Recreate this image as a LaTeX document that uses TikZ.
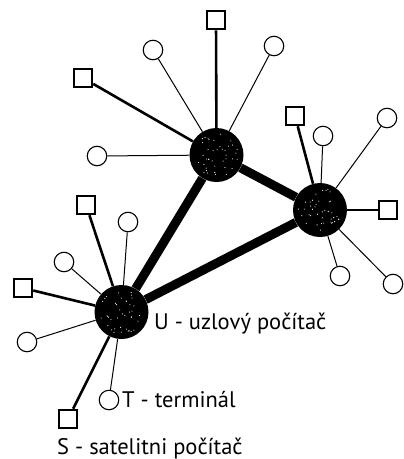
\documentclass[tikz,border=0pt]{standalone}
\usepackage{fontspec}
\setmainfont{PT Sans}
\usetikzlibrary{calc}
\begin{document}
\begin{tikzpicture}[x=1pt,y=-1pt,
  uzel/.style={circle,fill=black,minimum size=54pt,inner sep=0pt},
  term/.style={circle,draw,line width=1.1pt,fill=white,minimum size=19.5pt,inner sep=0pt},
  sat/.style={rectangle,draw,line width=2.5pt,fill=white,minimum size=18pt,inner sep=0pt},
  hlavni/.style={line width=9pt},
  satl/.style={line width=2.6pt},
  terml/.style={line width=1pt},
  lbl/.style={anchor=base west,inner sep=0pt,font=\fontsize{22.5}{26}\selectfont}]
\useasboundingbox (0,0) rectangle (404,459);
% central nodes
\node[uzel] (A) at (216.5,155) {};
\node[uzel] (B) at (320,210) {};
\node[uzel] (C) at (121.5,312) {};
% satellites and terminals of A
\node[sat]  (sA1) at (216,20) {};
\node[sat]  (sA2) at (83,78) {};
\node[term] (tA1) at (153,50) {};
\node[term] (tA2) at (274,46) {};
\node[term] (tA3) at (97,156) {};
% of B
\node[sat]  (sB1) at (295,116) {};
\node[term] (tB1) at (323,136) {};
\node[term] (tB2) at (387,118) {};
\node[sat]  (sB2) at (388,210) {};
\node[term] (tB3) at (340,276) {};
\node[term] (tB4) at (393,284) {};
% of C
\node[sat]  (sC1) at (86,205) {};
\node[term] (tC1) at (128,222) {};
\node[term] (tC2) at (64,262) {};
\node[sat]  (sC2) at (23,288) {};
\node[term] (tC3) at (27,342) {};
\node[term] (tC4) at (109,400) {};
\node[sat]  (sC3) at (68,419) {};
% main links
\draw[hlavni] (A) -- (B);
\draw[hlavni] (A) -- (C);
\draw[hlavni] (B) -- (C);
% satellite links
\draw[satl] (A) -- (sA1);
\draw[satl] (A) -- (sA2);
\draw[satl] (B) -- (sB1);
\draw[satl] (B) -- (sB2);
\draw[satl] (C) -- (sC1);
\draw[satl] (C) -- (sC2);
\draw[satl] (C) -- (sC3);
% terminal links
\draw[terml] (A) -- (tA1);
\draw[terml] (A) -- (tA2);
\draw[terml] (A) -- (tA3);
\draw[terml] (B) -- (tB1);
\draw[terml] (B) -- (tB2);
\draw[terml] (B) -- (tB3);
\draw[terml] (B) -- (tB4);
\draw[terml] (C) -- (tC1);
\draw[terml] (C) -- (tC2);
\draw[terml] (C) -- (tC3);
\draw[terml] (C) -- (tC4);
% speckle texture on the central nodes
\pgfmathsetseed{7}
\foreach \n in {A,B,C}{
  \foreach \i in {1,...,40}{
    \pgfmathsetmacro{\ang}{360*rnd}
    \pgfmathsetmacro{\rad}{22*sqrt(rnd)}
    \fill[white] ($(\n)+(\ang:\rad)$) circle (0.55pt);
  }
}
% labels
\node[lbl] (lU) at (154,329) {U - uzlový počítač};
\node[lbl] (lT) at (122,407) {T - terminál};
\node[lbl] (lS) at (57,454) {S - satelitni počítač};
\end{tikzpicture}
\end{document}
